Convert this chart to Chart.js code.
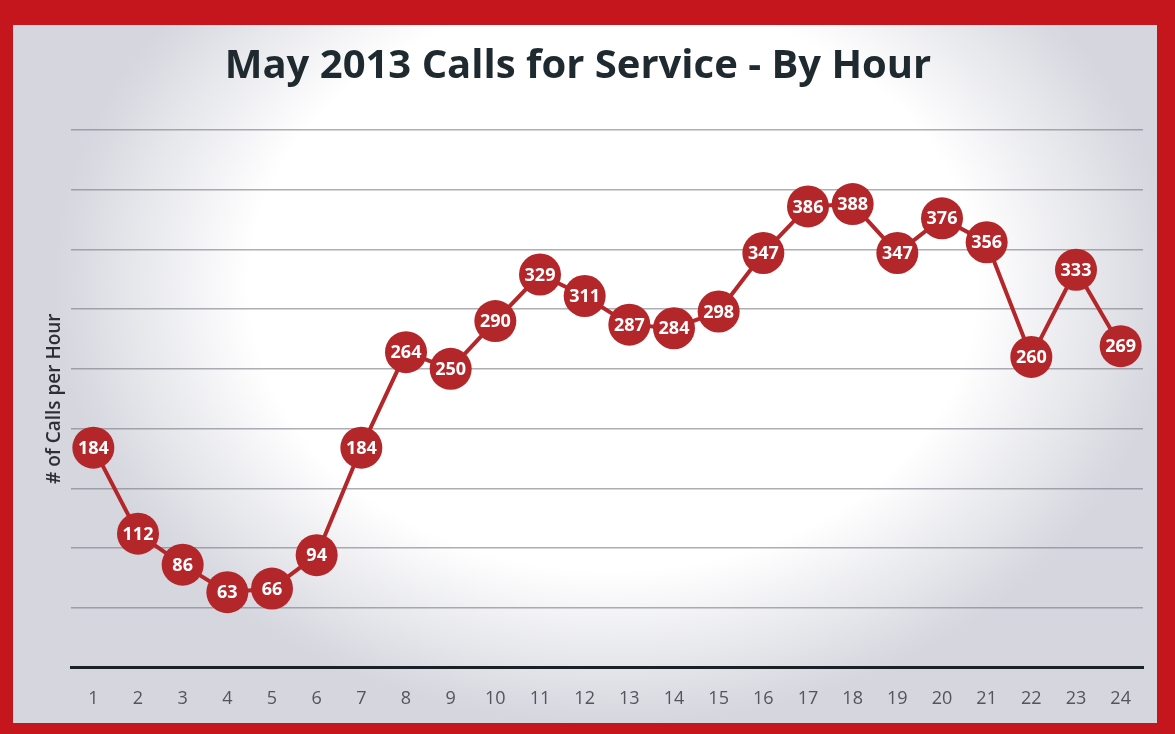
<!DOCTYPE html>
<html>
<head>
<meta charset="utf-8">
<script src="https://cdn.jsdelivr.net/npm/chart.js@4/dist/chart.umd.min.js"></script>
<style>
	body { margin: 0; background: #c4161c; }
	#frame { position: relative; width: 1175px; height: 734px; background: #c4161c; }
	#inner {
		position: absolute; left: 13px; top: 25px; width: 1144px; height: 698px;
		background: radial-gradient(ellipse 560px 440px at 600px 260px, #ffffff 65%, #d5d6de 100%);
	}
	#chart { position: absolute; left: 0; top: 0; }
</style>
</head>
<body>
<div id="frame">
	<div id="inner"></div>
	<canvas id="chart" width="1175" height="734"></canvas>
</div>
<script>
var horas=['1','2','3','4','5','6','7','8','9','10','11','12','13','14','15','16','17','18','19','20','21','22','23','24'];
var llamadas=[184,112,86,63,66,94,184,264,250,290,329,311,287,284,298,347,386,388,347,376,356,260,333,269];
var titulo='May 2013 Calls for Service - By Hour';
var tituloEje='# of Calls per Hour';

var rojo='#b3272a';
var fuente='"Open Sans", Lato, sans-serif';

// etiquetas blancas dentro de cada punto
var etiquetasPuntos={
	id: 'etiquetasPuntos',
	afterDatasetsDraw: function(chart){
		var ctx=chart.ctx;
		var meta=chart.getDatasetMeta(0);
		ctx.save();
		ctx.fillStyle='#ffffff';
		ctx.font='bold 18px '+fuente;
		ctx.textAlign='center';
		ctx.textBaseline='middle';
		meta.data.forEach(function(p,i){
			ctx.fillText(chart.data.datasets[0].data[i], p.x, p.y+1);
		});
		ctx.restore();
	}
};

const canvasLlamadas = document.getElementById('chart').getContext('2d');
var chartLlamadas = new Chart(canvasLlamadas, {
	type: 'line',
	data: {
		labels: horas,
		datasets: [{
			label: 'Calls',
			data: llamadas,
			borderColor: rojo,
			backgroundColor: rojo,
			borderWidth: 4,
			pointRadius: 21,
			pointHoverRadius: 21,
			pointBorderWidth: 0,
			pointBackgroundColor: rojo,
			fill: false,
			tension: 0
		}]
	},
	options: {
		responsive: false,
		animation: false,
		layout: { padding: { left: 13, right: 32, top: 25, bottom: 3 } },
		plugins: {
			legend: { display: false },
			tooltip: { enabled: false },
			title: {
				display: true,
				text: titulo,
				color: '#1e2a2f',
				font: { family: fuente, size: 40, weight: 'bold' },
				padding: { top: 18, bottom: 39 }
			}
		},
		scales: {
			x: {
				offset: true,
				grid: { display: false, drawTicks: false },
				border: { display: true, color: '#1a2228', width: 3 },
				ticks: { color: '#50565c', font: { family: fuente, size: 18 }, padding: 21 }
			},
			y: {
				min: 0,
				max: 450,
				afterFit: function(s){ s.width = 58; },
				ticks: { display: false, stepSize: 50 },
				grid: { color: 'rgba(120,120,130,0.6)', lineWidth: 1.5, drawTicks: false },
				border: { display: false },
				title: {
					display: true,
					text: tituloEje,
					color: '#2a3035',
					font: { family: fuente, size: 19, weight: '600' },
					padding: { top: 30, bottom: 0 }
				}
			}
		}
	},
	plugins: [etiquetasPuntos]
});
</script>
</body>
</html>
